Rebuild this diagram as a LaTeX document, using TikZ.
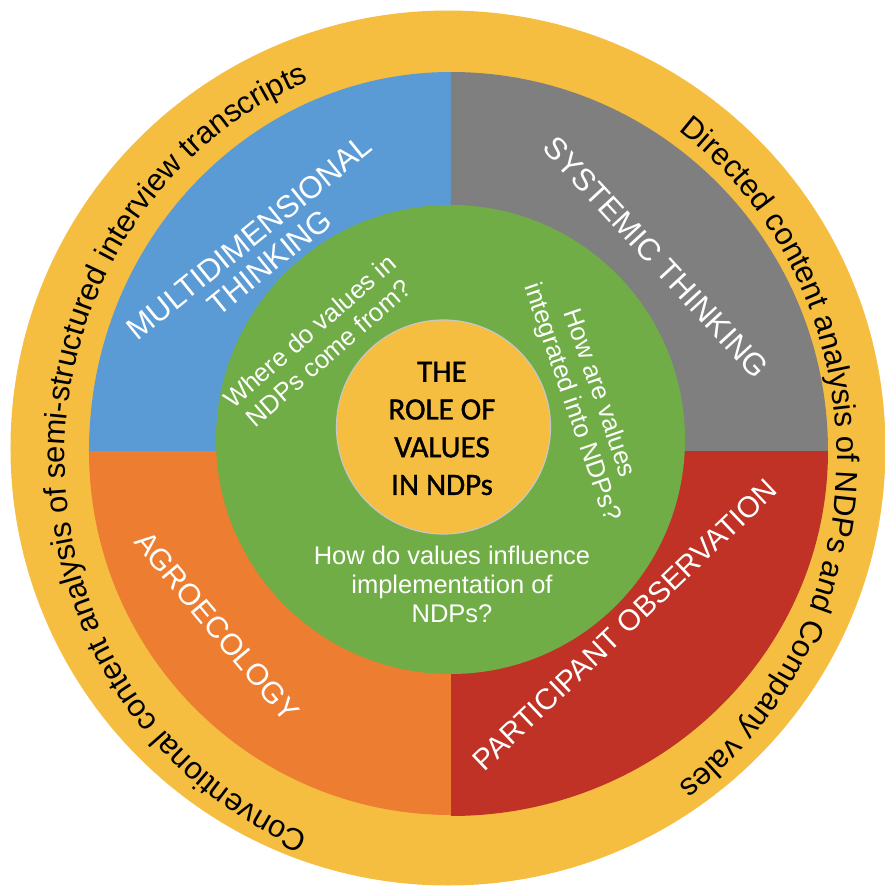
\documentclass[tikz,border=0pt]{standalone}
\usepackage{fontspec}
\setmainfont{Liberation Sans}
\newfontfamily\carlito[FakeBold=1.2]{Carlito}
\usetikzlibrary{decorations.text}
\definecolor{ringyellow}{RGB}{245,190,64}
\definecolor{qblue}{RGB}{91,155,213}
\definecolor{qgray}{RGB}{127,127,127}
\definecolor{qred}{RGB}{192,50,37}
\definecolor{qorange}{RGB}{237,125,49}
\definecolor{cgreen}{RGB}{112,173,71}
\newcommand{\outerfont}{\fontsize{31}{31}\selectfont}
\begin{document}
\begin{tikzpicture}[x=1pt,y=1pt,
  quadlabel/.style={text=white, align=center, inner sep=0pt},
  question/.style={text=white, align=center, inner sep=0pt, font=\fontsize{25.5}{29}\selectfont},
  rolestyle/.style={text=black, align=center, inner sep=0pt, font=\carlito\fontsize{31}{37.7}\selectfont}
]
\useasboundingbox (-448,-439) rectangle (437,448);
% outer ring
\fill[ringyellow] (0,0) circle[radius=437.5pt];
% quadrants
\fill[qblue] (3,-3) -- (-359,-3) arc[start angle=180,end angle=90,x radius=362pt,y radius=379pt] -- cycle;
\fill[qgray] (3,-3) -- (3,376) arc[start angle=90,end angle=0,x radius=377pt,y radius=379pt] -- cycle;
\fill[qred] (3,-3) -- (380,-3) arc[start angle=0,end angle=-90,x radius=377pt,y radius=365pt] -- cycle;
\fill[qorange] (3,-3) -- (3,-367) arc[start angle=270,end angle=180,x radius=362pt,y radius=364pt] -- cycle;
% green circle
\fill[cgreen] (2.5,8.5) circle[radius=234.5pt];
% inner circle
\filldraw[fill=ringyellow, draw=black!22, line width=1.2pt] (-4.5,21) circle[radius=107pt];
% outer curved texts
\path[decorate, decoration={text along path, text align=center,
  text={|\outerfont|Conventional content analysis of semi-structured interview transcripts}}]
  (3,-415) arc[start angle=270, end angle=90, x radius=386pt, y radius=405pt];
\path[decorate, decoration={text along path, text align=center,
  text={|\outerfont|Directed content analysis of NDPs and Company vales}}]
  (3,395) arc[start angle=90, end angle=-90, x radius=386pt, y radius=405pt];
% quadrant labels
\node[quadlabel, rotate=39, font=\fontsize{31}{32}\selectfont] (multi) at (-188.5,198) {MULTIDIMENSIONAL\\THINKING};
\node[quadlabel, rotate=-47.3, font=\fontsize{31}{28}\selectfont] (systemic) at (208,190.5) {SYSTEMIC THINKING};
\node[quadlabel, rotate=-50, font=\fontsize{30}{28}\selectfont] (agro) at (-231,-178.5) {AGROECOLOGY};
\node[quadlabel, rotate=43.6, font=\fontsize{29.5}{28}\selectfont] (partic) at (177,-177) {PARTICIPANT OBSERVATION};
% questions
\node[question, rotate=41] (where) at (-129,106) {Where do values in\\NDPs come from?};
\node[question, rotate=-71] (integr) at (137,50) {How are values\\integrated into NDPs?};
\node[question] (influ) at (4,-136) {How do values influence\\implementation of\\NDPs?};
% centre
\node[rolestyle] (role) at (-6,19.5) {THE\\ROLE OF\\VALUES\\IN NDPs};
\end{tikzpicture}
\end{document}
